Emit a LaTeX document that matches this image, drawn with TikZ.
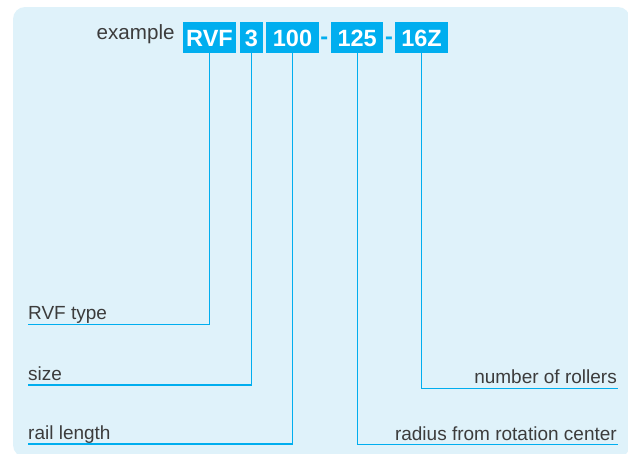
\documentclass[tikz,border=0pt]{standalone}
\usepackage{fontspec}
\setmainfont{Liberation Sans}
\definecolor{bgblue}{RGB}{223,242,250}
\definecolor{cyanbox}{RGB}{0,174,239}
\definecolor{txtgray}{RGB}{60,60,60}
\begin{document}
\begin{tikzpicture}[x=1pt,y=-1pt,
  codebox/.style={fill=cyanbox, text=white, inner sep=0pt, minimum height=30.4pt,
    text height=17pt, text depth=0pt, font=\fontsize{23.5}{24}\selectfont\bfseries},
  dashmark/.style={anchor=base, inner sep=0pt, text=cyanbox, font=\fontsize{23.5}{24}\selectfont\bfseries},
  lbl/.style={inner sep=0pt, text=txtgray, font=\fontsize{19}{20}\selectfont},
  lead/.style={draw=cyanbox, line width=1.3pt}]
\useasboundingbox (0,0) rectangle (628,453);
\fill[bgblue, rounded corners=12pt] (13,7) rectangle (630,457);

\node[lbl, anchor=base west, font=\fontsize{20.6}{22}\selectfont] (ex) at (96.5,39) {example};
\node[codebox, minimum width=52.4pt] (rvf) at (209.5,37.5) {RVF};
\node[codebox, minimum width=22.7pt] (b3) at (251.4,37.5) {3};
\node[codebox, minimum width=52.4pt] (b100) at (292.5,37.5) {100};
\node[dashmark] (d1) at (324.3,44) {-};
\node[codebox, minimum width=52.4pt] (b125) at (357.2,37.5) {125};
\node[dashmark] (d2) at (389,44) {-};
\node[codebox, minimum width=52.4pt] (b16) at (421.5,37.5) {16Z};

\node[lbl, anchor=base west] (lt) at (28,319.5) {RVF type};
\node[lbl, anchor=base west] (ls) at (28,380) {size};
\node[lbl, anchor=base west] (lr) at (28,439) {rail length};
\node[lbl, anchor=base east] (nr) at (617,383.5) {number of rollers};
\node[lbl, anchor=base east] (rr) at (617,440) {radius from rotation center};

\coordinate (e1) at (28,324.7);
\coordinate (e2) at (28,385);
\coordinate (e3) at (28,444);
\coordinate (e4) at (617.5,388.7);
\coordinate (e5) at (617.5,444.3);

\draw[lead] (rvf.south) |- (e1);
\draw[lead] (b3.south) |- (e2);
\draw[lead] (b100.south) |- (e3);
\draw[lead] (b16.south) |- (e4);
\draw[lead] (b125.south) |- (e5);
\end{tikzpicture}
\end{document}
